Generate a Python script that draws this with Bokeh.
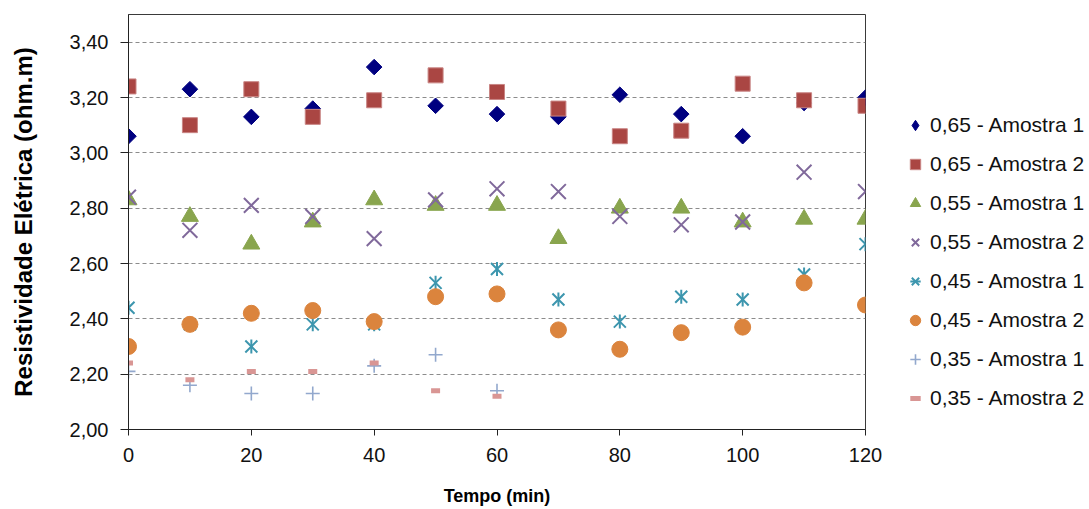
import numpy as np
from bokeh.plotting import figure
from bokeh.models import Range1d, FixedTicker, CustomJSTickFormatter, Legend, LegendItem
from bokeh.embed import file_html
from bokeh.resources import INLINE

# ---- data ----
tempo = [0, 10, 20, 30, 40, 50, 60, 70, 80, 90, 100, 110, 120]
tempo_035 = [0, 10, 20, 30, 40, 50, 60]

r065_a1 = [3.06, 3.23, 3.13, 3.16, 3.31, 3.17, 3.14, 3.13, 3.21, 3.14, 3.06, 3.18, 3.20]
r065_a2 = [3.24, 3.10, 3.23, 3.13, 3.19, 3.28, 3.22, 3.16, 3.06, 3.08, 3.25, 3.19, 3.17]
r055_a1 = [2.83, 2.77, 2.67, 2.75, 2.83, 2.81, 2.81, 2.69, 2.80, 2.80, 2.75, 2.76, 2.76]
r055_a2 = [2.84, 2.72, 2.81, 2.77, 2.69, 2.83, 2.87, 2.86, 2.77, 2.74, 2.75, 2.93, 2.86]
r045_a1 = [2.44, 2.38, 2.30, 2.38, 2.38, 2.53, 2.58, 2.47, 2.39, 2.48, 2.47, 2.56, 2.67]
r045_a2 = [2.30, 2.38, 2.42, 2.43, 2.39, 2.48, 2.49, 2.36, 2.29, 2.35, 2.37, 2.53, 2.45]
r035_a1 = [2.21, 2.16, 2.13, 2.13, 2.23, 2.27, 2.14]
r035_a2 = [2.24, 2.18, 2.21, 2.21, 2.24, 2.14, 2.12]

labels = ["0,65 - Amostra 1", "0,65 - Amostra 2", "0,55 - Amostra 1", "0,55 - Amostra 2",
          "0,45 - Amostra 1", "0,45 - Amostra 2", "0,35 - Amostra 1", "0,35 - Amostra 2"]

y_ticks = [2.0, 2.2, 2.4, 2.6, 2.8, 3.0, 3.2, 3.4]
x_ticks = [0, 20, 40, 60, 80, 100, 120]

FONT = "Liberation Sans"

p = figure(frame_width=737, frame_height=415, output_backend="svg", toolbar_location=None,
           x_range=Range1d(0, 120), y_range=Range1d(2.0, 3.5),
           min_border_left=128, min_border_right=0, min_border_top=14, min_border_bottom=78)
p.background_fill_color = "white"
p.border_fill_color = "white"
p.outline_line_color = "#3a3a3a"
p.outline_line_width = 1

# axes
p.xaxis.ticker = FixedTicker(ticks=x_ticks)
p.yaxis.ticker = FixedTicker(ticks=y_ticks)
p.yaxis.formatter = CustomJSTickFormatter(code="return tick.toFixed(2).replace('.', ',');")
p.xaxis.axis_label = "Tempo (min)"
p.yaxis.axis_label = "Resistividade Elétrica (ohm.m)"
for ax in (p.xaxis, p.yaxis):
    ax.axis_line_color = "#222222"
    ax.major_tick_line_color = "#222222"
    ax.minor_tick_line_color = None
    ax.major_tick_in = 0
    ax.major_label_text_font = FONT
    ax.major_label_text_font_size = "20px"
    ax.major_label_text_color = "#111111"
    ax.axis_label_text_font = FONT
    ax.axis_label_text_font_style = "bold"
    ax.axis_label_text_color = "#000000"
p.xaxis.major_tick_out = 6
p.yaxis.major_tick_out = 8
p.xaxis.major_label_standoff = 12
p.yaxis.major_label_standoff = 12
p.xaxis.axis_label_text_font_size = "18px"
p.yaxis.axis_label_text_font_size = "24px"
p.xaxis.axis_label_standoff = 21
p.yaxis.axis_label_standoff = 30

p.xgrid.grid_line_color = None
p.ygrid.grid_line_color = "#8c8c8c"
p.ygrid.grid_line_dash = "4 3"
p.ygrid.grid_line_width = 1

# series
g1 = p.scatter(tempo, r065_a1, marker="square", angle=np.pi / 4, size=11,
               fill_color="#000080", line_color="#000080")
# hidden twin of series 1, used only for its legend glyph (legend glyphs ignore the angle)
g1_leg = p.scatter(tempo, r065_a1, marker="diamond", size=16,
                   fill_color="#000080", line_color="#000080", visible=False)
g2 = p.scatter(tempo, r065_a2, marker="square", size=15,
               fill_color="#AA4643", line_color="#C98584", line_width=1)
g3 = p.scatter(tempo, r055_a1, marker="triangle", size=17,
               fill_color="#89A54E", line_color="#89A54E")
g4 = p.scatter(tempo, r055_a2, marker="x", size=21,
               line_color="#80699B", line_width=2)
g5a = p.scatter(tempo, r045_a1, marker="x", size=17,
                line_color="#3D96AE", line_width=2)
g5b = p.scatter(tempo, r045_a1, marker="dash", angle=np.pi / 2, size=14,
                line_color="#3D96AE", line_width=2)
g6 = p.scatter(tempo, r045_a2, marker="circle", size=16,
               fill_color="#DB843D", line_color="#DB843D")
g7 = p.scatter(tempo_035, r035_a1, marker="cross", size=14,
               line_color="#92A8CD", line_width=1.6)
g8 = p.scatter(tempo_035, r035_a2, marker="dash", size=9,
               line_color="#D99694", line_width=5)

renderers = [[g1_leg], [g2], [g3], [g4], [g5a, g5b], [g6], [g7], [g8]]
items = [LegendItem(label=lab, renderers=r) for lab, r in zip(labels, renderers)]
legend = Legend(items=items, location=(37, 16), orientation="vertical",
                glyph_width=26, glyph_height=30, label_height=26, spacing=9,
                label_standoff=2, padding=5, margin=0,
                label_text_font=FONT, label_text_font_size="21px", label_text_color="#111111",
                border_line_color=None, background_fill_alpha=0)
p.add_layout(legend, "right")

open("out.html", "w").write(file_html(p, INLINE))
